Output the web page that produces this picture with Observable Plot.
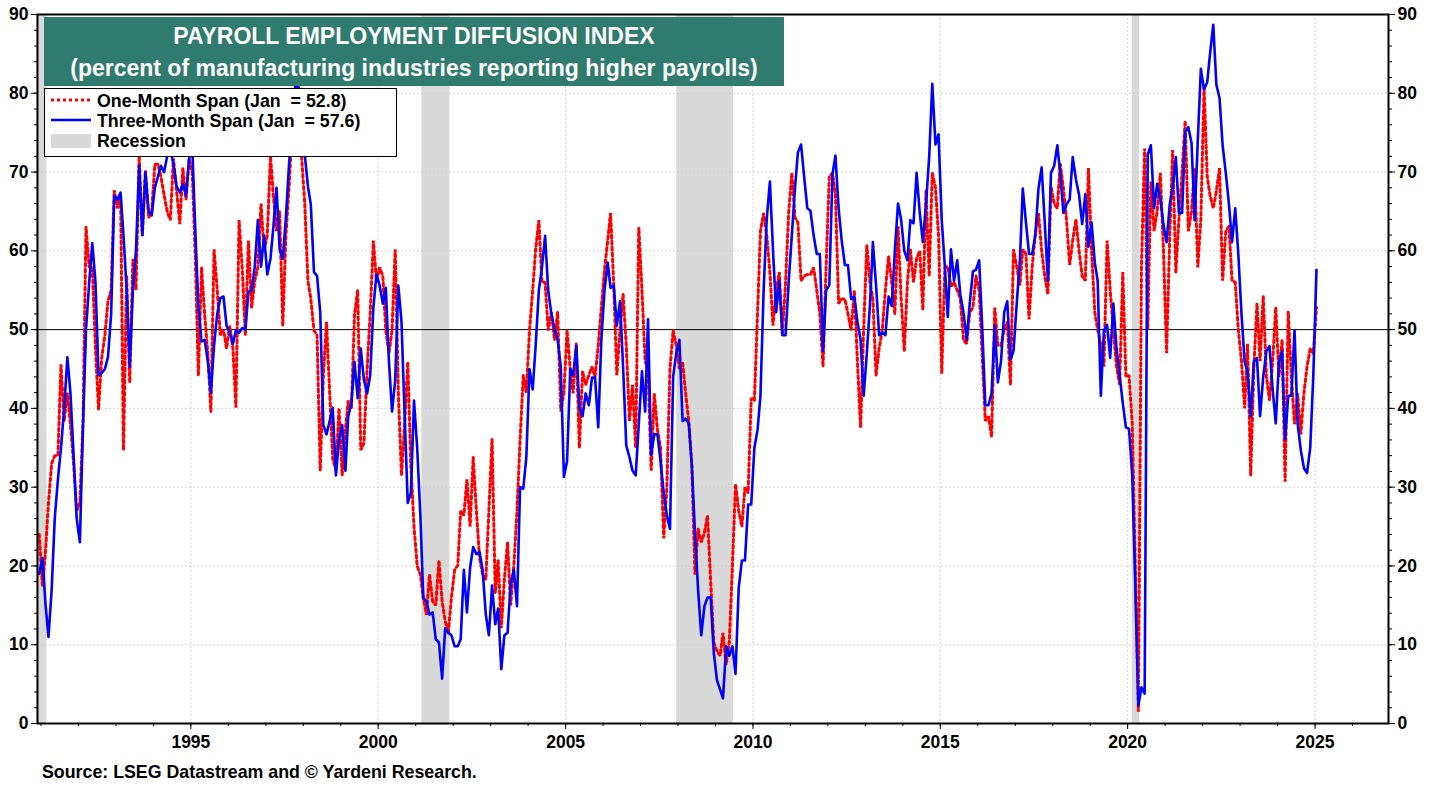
<!DOCTYPE html>
<html><head><meta charset="utf-8">
<script src="https://cdn.jsdelivr.net/npm/d3@7"></script>
<script src="https://cdn.jsdelivr.net/npm/@observablehq/plot@0.6"></script>
<style>
body{margin:0;background:#fff;font-family:"Liberation Sans",Arial,sans-serif;}
#wrap{position:relative;width:1439px;height:787px;overflow:hidden;}
#title{position:absolute;left:44px;top:17px;width:740px;height:69px;background:#2f7c6e;color:#fff;font-weight:bold;font-size:23px;text-align:center;line-height:32px;padding-top:3px;box-sizing:border-box;white-space:nowrap;}
#legend{position:absolute;left:44px;top:88px;width:353px;height:69px;background:#fff;border:1.5px solid #000;box-sizing:border-box;font-weight:bold;font-size:17.8px;color:#000;}
.li{position:absolute;left:52px;height:20px;line-height:20px;white-space:pre;}
.sw{position:absolute;left:6px;}
#source{position:absolute;left:42px;top:762px;font-weight:bold;font-size:17.8px;color:#000;white-space:nowrap;}
</style></head><body><div id="wrap"></div>
<script>
// Monthly values, first = Dec 1990, last = Jan 2025
const oneMonthSpan = [
24,17.5,22,28,33,34,34,45.6,38.4,42,38,33,
27,28,38.4,63,57.9,58,47.6,39.9,46.4,49.3,53.6,55,
67.7,65.4,67,34.7,56.8,43.3,59,55,72,61.9,70.2,64.2,
65,71,71,69.4,67.1,65,63.9,71.7,67.6,63.4,70.5,66.5,
71.7,70,58.5,44.2,57.9,52,47,39.6,60.2,55,49.3,50,
47.6,50.5,47.6,40.1,63.9,57.9,49.3,61.3,52.8,56.2,57.9,66,
60,62,72,67,62.5,65,50.5,62,68,76,80,78,
72,66,56.2,53.9,49.9,49.3,32.1,44,51,42,33.6,32.1,
40,31.5,37.3,41,40,51.9,55,34.7,35.6,45,52,61.3,
56.2,57.9,56.8,49.9,47,49.9,60.2,42,31.5,38,45.9,32.7,
25,20,18.9,16,13.8,18.9,15.5,15,20.7,15.5,13,11.5,
16,19.5,20.1,27,26.4,31,25,33.8,27,21,18.9,18.3,
27,36.1,16.6,20.7,12.1,18.3,23,15,20,27,36,44.2,
42,49.9,55,60.2,63.9,56,56,49.9,52.2,48.7,52.2,39.6,
42,49.9,45,41.9,48.2,35,44.7,43,44.2,45.3,44,48,
52.8,57.6,61.3,64.8,55.6,44.2,50,54.5,48,38.4,43,35,
63,55,46,45,32.1,41.9,37.3,35,23.5,30,45,49.9,
48,45,45.9,42,38.4,33,18.9,24.7,23,24.2,26.4,18,
10.3,9.2,8.6,11.5,7.5,10.3,20,30.4,27,25,30,29.3,
41.3,41,52.2,62.5,64.8,62,57.3,50.5,55,57.3,49.3,56,
64.8,69.9,64.2,63.6,56.2,56.8,57,57,57.9,55,52,45.3,
58,69.4,69.9,67.1,53.3,53.9,53.9,52,49.9,55,46,37.6,
50,60.8,56,53.9,44.2,47.6,50,55,59.3,56,52,63.1,
54,47.3,56,60.2,56,59,60,52.5,67.6,56.8,69.9,68,
62,44.4,57.9,58,55.5,56,55,54,48.7,48.2,52.2,52.8,
56.8,55,46.4,38.4,39,36.4,52.8,48,48,50,51,43,
60.2,58,55.6,60.2,59.6,51.3,58,62,64.8,60,56.8,54.5,
68.2,66,65.4,71.1,68,64,58.2,61.3,64,60,56.8,56.2,
70.5,60,52.2,50,48,45.3,61.3,55,49.9,45.3,43,57.3,
44,44.2,38,20,1.5,58,73,50,68.8,62.5,65,69.9,
60.2,47,62,72.8,57.3,64,70,76.5,62.5,65,70.5,57.9,
64,80.8,69.4,67,65.4,67.6,70.5,56.2,62.5,63.1,56.2,56,
50,46,40,48.2,31.5,45,53.3,46,54.2,44,41,46,
52.8,44,48.7,30.7,52.2,44,38,41.9,36.7,42,45.3,47.6,
47,52.8
];
const threeMonthSpan = [
19,21,15,11,17,26,31,35,40,46.5,42,34,
26,23,38,50,56,61,56,44.2,44.5,45,46.5,52,
67,66.5,67.4,62,55,45.3,55,60,70.8,62,70,65,
64.5,68,69.5,70.8,70,72,73,71,68.2,67.4,68.5,67,
71.7,73,62,53,48.5,48.7,46,42,48,52,54,54.2,
50.5,49.6,48.2,49.9,49.6,50.2,50,54.8,55,58,63.9,58,
61.9,57,59,63,68,60.2,59,64.2,71,76,81,80.8,
76,72.2,68.2,65.9,57.3,56.8,52.2,37.9,36.7,38.4,40.1,31.5,
36,37.9,32.1,39,40.7,45.9,41.3,47.6,43.6,41.9,44.2,52.8,
57,55.6,53.3,55.3,45.9,39.6,43.6,55.6,51,39,28,29.3,
41,35,26.4,16,15.5,13.8,14.1,10.7,10.3,5.7,12.1,11.5,
11.2,9.8,9.8,10.7,19.5,14.1,19.8,22.4,21.5,21.8,19.5,13.8,
11.2,17.5,12.6,14.6,6.9,11.2,11.5,17.8,19.5,14.9,30,29.8,
33.8,45,42.4,48,55,57.9,61.9,55,52,50,48.7,45.3,
31.3,33.3,45,44.2,47.9,40.1,39,41.9,40.4,43.9,43.9,37.6,
48.7,55,58.5,55.3,55.6,50.5,53.6,45.3,35.3,33.8,32.1,31.5,
38,44.7,39.6,51.3,34.1,36.7,36.7,33.3,29.3,26.4,24.7,44,
47,48.7,38.4,38.7,38.1,32.7,24.2,17,11.2,14.9,16,16,
9,5.5,4.3,3.2,9.8,8.6,9.8,6.3,17.2,20.7,20.7,27.8,
27.8,35,37.3,41.6,55,64,68.8,60.2,52.2,56.2,49.3,49.3,
56,62,68,72.5,73.5,69.4,65.4,65.1,62,59.6,59.6,47.3,
55,55.6,69.7,72.1,65.4,61.3,58.2,58.2,53.9,54.2,51,48.7,
41.6,47,53.3,61.1,55.6,49.3,49.6,49.3,54.2,53,60,66,
64,60,58.8,63.9,63.5,69.9,64.8,61.1,65.9,72,81.2,73.5,
74.8,63.9,57.9,51.6,60.2,56.2,58.8,54.5,52.2,48.7,53.3,57.4,
57.6,58.8,49.9,40.4,40.4,41.9,50.5,43.3,46,52.2,53.6,46.2,
47.3,53.3,58.8,67.9,63.6,59.6,59.6,62,67.9,70.6,63.6,56.2,
69.9,70.8,73.4,69.9,64.8,65.9,66.5,71.9,69.1,67.1,63.4,67.2,
60.5,63.6,58.5,56.2,41.6,49.9,50.6,46.4,53.3,47.6,44.2,40.7,
37.6,37.4,31.5,18,2.3,4.6,3.8,72.2,73.4,65.4,68.5,66.5,
63.4,61.1,65.9,67.9,71.9,64.8,64.8,75.1,75.7,73.7,63.9,74,
83.1,80.5,81.4,85.1,88.7,81.1,79.4,73.4,69.9,65.9,61.1,65.4,
59.6,52,45.9,44.7,39,45.9,46.4,39,44,47.3,47.9,42.4,
38.1,45.9,47.3,36.1,41.6,41.6,49.9,38.1,34.7,32.4,31.8,35,
44.2,57.6
];
const recessionStart = ["1990-11-20","2001-03-01","2007-12-20","2020-02-15"];
const recessionEnd   = ["1991-02-28","2001-11-30","2009-06-25","2020-04-28"];
const yTicks = [0,10,20,30,40,50,60,70,80,90];
const yGrid = [10,20,30,40,60,70,80];
const xLabelYears = [1995,2000,2005,2010,2015,2020,2025];

const parse = s => { const [y,m,d] = s.split("-").map(Number); return new Date(y, m-1, d); };
const data = threeMonthSpan.map((v,i)=>({date:new Date(1990, 11+i, 15), one:oneMonthSpan[i], three:v}));
const recessions = recessionStart.map((s,i)=>({x1:parse(s), x2:parse(recessionEnd[i])}));
const xMajor = xLabelYears.map(y=>new Date(y,0,1));
const xMinor = d3.range(1991,2027).map(y=>new Date(y,0,1));
const yMinor = d3.range(0,91,2);

const chart = Plot.plot({
  width:1439, height:787,
  marginLeft:37, marginRight:51, marginTop:14, marginBottom:64,
  style:{fontFamily:"'Liberation Sans', Arial, sans-serif", color:"#000", background:"#fff"},
  x:{type:"time", domain:[new Date(1990,10,28), new Date(2026,11,18)]},
  y:{domain:[0,90]},
  marks:[
    Plot.rect(recessions,{x1:"x1",x2:"x2",y1:0,y2:90,fill:"#d9d9d9"}),
    Plot.ruleY(yGrid,{stroke:"#c8c8c8",strokeDasharray:"1.5,2.5",strokeWidth:1}),
    Plot.ruleX(xMajor,{stroke:"#c8c8c8",strokeDasharray:"1.5,2.5",strokeWidth:1}),
    Plot.ruleY([50],{stroke:"#000",strokeWidth:1}),
    Plot.line(data,{x:"date",y:"one",stroke:"#ff0000",strokeWidth:3,strokeDasharray:"3,3",strokeLinejoin:"miter"}),
    Plot.line(data,{x:"date",y:"three",stroke:"#0000ff",strokeWidth:2.6}),
    Plot.frame({stroke:"#000",strokeWidth:2}),
    Plot.axisY(yTicks,{anchor:"left",tickSize:6,tickPadding:3,fontSize:17.5,fontWeight:"bold",tickFormat:d=>d}),
    Plot.axisY(yMinor,{anchor:"left",tickSize:3,text:null}),
    Plot.axisY(yTicks,{anchor:"right",tickSize:6,tickPadding:3,fontSize:17.5,fontWeight:"bold",tickFormat:d=>d}),
    Plot.axisY(yMinor,{anchor:"right",tickSize:3,text:null}),
    Plot.axisX(xMajor,{anchor:"bottom",tickSize:6,tickPadding:6,fontSize:17.5,fontWeight:"bold",tickFormat:d3.timeFormat("%Y")}),
    Plot.axisX(xMinor,{anchor:"bottom",tickSize:3,text:null})
  ]
});
const wrap = document.getElementById("wrap");
wrap.appendChild(chart);

wrap.insertAdjacentHTML("beforeend", `
<div id="title">PAYROLL EMPLOYMENT DIFFUSION INDEX<br>(percent of manufacturing industries reporting higher payrolls)</div>
<div id="legend">
  <svg class="sw" style="top:4px" width="40" height="14"><line x1="0" y1="7" x2="40" y2="7" stroke="#ff0000" stroke-width="3" stroke-dasharray="3,3"/></svg>
  <div class="li" style="top:2px">One-Month Span (Jan  = ${oneMonthSpan[oneMonthSpan.length-1]})</div>
  <svg class="sw" style="top:24px" width="40" height="14"><line x1="0" y1="7" x2="40" y2="7" stroke="#0000ff" stroke-width="2.6"/></svg>
  <div class="li" style="top:22px">Three-Month Span (Jan  = ${threeMonthSpan[threeMonthSpan.length-1]})</div>
  <svg class="sw" style="top:45px" width="40" height="14"><rect x="0" y="0" width="40" height="14" fill="#d9d9d9"/></svg>
  <div class="li" style="top:42px">Recession</div>
</div>
<div id="source">Source: LSEG Datastream and © Yardeni Research.</div>
`);
</script>
</body></html>
